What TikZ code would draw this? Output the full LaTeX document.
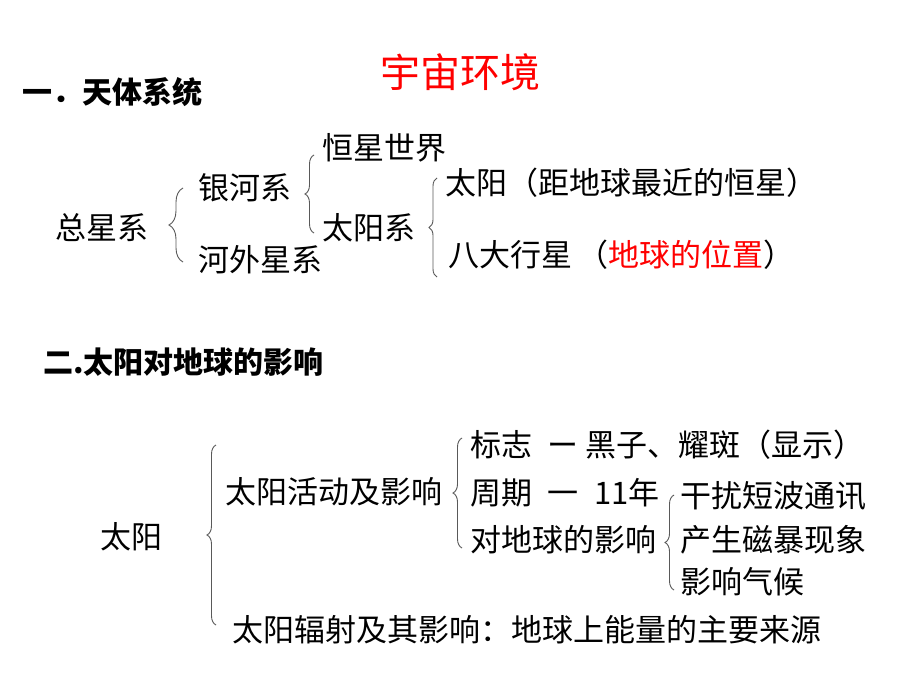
\documentclass[tikz,border=0pt]{standalone}
\usepackage{fontspec}
\usepackage{xcolor}
\usepackage{tikz}
\usetikzlibrary{positioning,decorations.pathreplacing}
\newfontfamily\cjk{Noto Sans CJK SC}

\tikzset{
  txt/.style={anchor=west, inner sep=0pt, font=\cjk\fontsize{31}{36}\selectfont},
  head/.style={txt, font=\cjk\bfseries\fontsize{30}{36}\selectfont},
  brc/.style={draw=black!65, line width=0.9pt, decorate, decoration={brace, amplitude=#1}},
  brc/.default=9pt
}

\begin{document}
\begin{tikzpicture}[x=1pt, y=-1pt]
  \fill[white] (0,0) rectangle (920,690);
  \useasboundingbox (0,0) rectangle (920,690);

  % title
  \node[inner sep=0pt, text=red, font=\cjk\fontsize{40}{48}\selectfont] (title) at (460,72) {宇宙环境};

  % part one
  \node[head] (h1) at (22,92) {一．天体系统};
  \node[txt] (zong) at (55,228) {总星系};
  \node[txt] (yinhe) at (198,188) {银河系};
  \node[txt] (hewai) at (198,260) {河外星系};
  \node[txt] (hengxing) at (322,148) {恒星世界};
  \node[txt] (taiyangxi) at (322,228) {太阳系};
  \node[txt] (sun) at (445,183) {太阳（距地球最近的恒星）};
  \node[txt] (bada) at (448,255) {八大行星\,（\textcolor{red}{地球的位置}）};

  \coordinate (b1s) at (183,262); \coordinate (b1e) at (183,188);
  \coordinate (b2s) at (314,233); \coordinate (b2e) at (314,155);
  \coordinate (b3s) at (437,277); \coordinate (b3e) at (437,178);
  \draw[brc=14pt] (b1s) -- (b1e);
  \draw[brc] (b2s) -- (b2e);
  \draw[brc=8pt] (b3s) -- (b3e);

  % part two
  \node[head] (h2) at (43,362) {二.太阳对地球的影响};
  \node[txt] (taiyang) at (100,537) {太阳};
  \node[txt] (huodong) at (225,492) {太阳活动及影响};
  \node[txt] (fushe) at (232,630) {太阳辐射及其影响：地球上能量的主要来源};
  \node[txt] (biaozhi) at (470,445) {标志\enspace ー 黑子、耀斑（显示）};
  \node[txt] (zhouqi) at (470,493) {周期\enspace 一\enspace 11年};
  \node[txt] (yingxiang) at (470,540) {对地球的影响};
  \node[txt] (ganrao) at (680,496) {干扰短波通讯};
  \node[txt] (cibao) at (680,540) {产生磁暴现象};
  \node[txt] (qihou) at (680,582) {影响气候};

  \coordinate (b4s) at (216,625); \coordinate (b4e) at (216,445);
  \coordinate (b5s) at (462,548); \coordinate (b5e) at (462,438);
  \coordinate (b6s) at (674,590); \coordinate (b6e) at (674,495);
  \draw[brc] (b4s) -- (b4e);
  \draw[brc] (b5s) -- (b5e);
  \draw[brc] (b6s) -- (b6e);
\end{tikzpicture}
\end{document}
